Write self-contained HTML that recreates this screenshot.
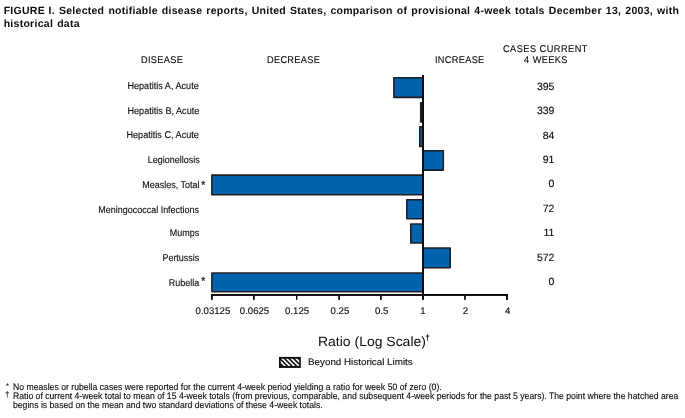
<!DOCTYPE html>
<html>
<head>
<meta charset="utf-8">
<title>FIGURE I</title>
<style>
html,body{margin:0;padding:0;background:#fff;}
body{width:685px;height:418px;position:relative;overflow:hidden;font-family:"Liberation Sans",sans-serif;color:#0d0b0c;}
.w{position:absolute;left:0;top:0;width:685px;height:418px;will-change:transform;}
.t{position:absolute;white-space:nowrap;text-rendering:geometricPrecision;-webkit-text-stroke:0.12px #0d0b0c;}
svg{position:absolute;left:0;top:0;}
</style>
</head>
<body>
<div class="w">
<div class="t" style="font-size:10.5px;line-height:12px;height:12px;font-weight:bold;letter-spacing:0.27px;word-spacing:0.9px;left:3.7px;top:5px;-webkit-text-stroke:0;">FIGURE<span style="word-spacing:0.3px"> </span>I. Selected notifiable disease reports, United States, comparison of provisional 4-week totals December 13, 2003, with</div>
<div class="t" style="font-size:10.5px;line-height:12px;height:12px;font-weight:bold;letter-spacing:0.27px;word-spacing:0.9px;left:3.7px;top:18px;-webkit-text-stroke:0;">historical data</div>
<div class="t" style="font-size:9.8px;line-height:12px;height:12px;letter-spacing:0.33px;left:140.6px;transform:scaleX(0.94);transform-origin:0 50%;top:55px;">DISEASE</div>
<div class="t" style="font-size:9.8px;line-height:12px;height:12px;letter-spacing:0.33px;left:266.8px;transform:scaleX(0.94);transform-origin:0 50%;top:55px;">DECREASE</div>
<div class="t" style="font-size:9.8px;line-height:12px;height:12px;letter-spacing:0.33px;left:435.3px;transform:scaleX(0.94);transform-origin:0 50%;top:55px;">INCREASE</div>
<div class="t" style="font-size:9.8px;line-height:12px;height:12px;letter-spacing:0.5px;left:503.4px;transform:scaleX(0.94);transform-origin:0 50%;top:44px;">CASES CURRENT</div>
<div class="t" style="font-size:9.8px;line-height:12px;height:12px;letter-spacing:0.4px;word-spacing:0.3px;left:523.5px;transform:scaleX(0.94);transform-origin:0 50%;top:55px;">4 WEEKS</div>
<div class="t" style="font-size:9.8px;line-height:12px;height:12px;right:485.8px;text-align:right;transform:scaleX(0.93);transform-origin:100% 50%;top:81px;">Hepatitis A, Acute</div>
<div class="t" style="font-size:9.8px;line-height:12px;height:12px;right:485.8px;text-align:right;transform:scaleX(0.93);transform-origin:100% 50%;top:106px;">Hepatitis B, Acute</div>
<div class="t" style="font-size:9.8px;line-height:12px;height:12px;right:485.8px;text-align:right;transform:scaleX(0.93);transform-origin:100% 50%;top:130px;">Hepatitis C, Acute</div>
<div class="t" style="font-size:9.8px;line-height:12px;height:12px;right:485.8px;text-align:right;transform:scaleX(0.915);transform-origin:100% 50%;top:155px;">Legionellosis</div>
<div class="t" style="font-size:9.8px;line-height:12px;height:12px;right:485.8px;text-align:right;transform:scaleX(0.915);transform-origin:100% 50%;top:180px;">Measles, Total</div>
<div class="t" style="font-size:9.8px;line-height:12px;height:12px;right:485.8px;text-align:right;transform:scaleX(0.915);transform-origin:100% 50%;top:205px;">Meningococcal Infections</div>
<div class="t" style="font-size:9.8px;line-height:12px;height:12px;right:485.8px;text-align:right;transform:scaleX(0.915);transform-origin:100% 50%;top:228px;">Mumps</div>
<div class="t" style="font-size:9.8px;line-height:12px;height:12px;right:485.8px;text-align:right;transform:scaleX(0.915);transform-origin:100% 50%;top:253px;">Pertussis</div>
<div class="t" style="font-size:9.8px;line-height:12px;height:12px;right:485.8px;text-align:right;transform:scaleX(0.915);transform-origin:100% 50%;top:278px;">Rubella</div>
<div class="t" style="font-size:12px;line-height:12px;height:12px;left:201px;transform:scaleX(0.95);transform-origin:0 50%;top:179.2px;">*</div>
<div class="t" style="font-size:12px;line-height:12px;height:12px;left:201px;transform:scaleX(0.95);transform-origin:0 50%;top:275.2px;">*</div>
<div class="t" style="font-size:10.5px;line-height:12px;height:12px;right:130.6px;text-align:right;top:81px;">395</div>
<div class="t" style="font-size:10.5px;line-height:12px;height:12px;right:130.6px;text-align:right;top:105px;">339</div>
<div class="t" style="font-size:10.5px;line-height:12px;height:12px;right:130.6px;text-align:right;top:130px;">84</div>
<div class="t" style="font-size:10.5px;line-height:12px;height:12px;right:130.6px;text-align:right;top:154px;">91</div>
<div class="t" style="font-size:10.5px;line-height:12px;height:12px;right:130.6px;text-align:right;top:178px;">0</div>
<div class="t" style="font-size:10.5px;line-height:12px;height:12px;right:130.6px;text-align:right;top:203px;">72</div>
<div class="t" style="font-size:10.5px;line-height:12px;height:12px;right:130.6px;text-align:right;top:227px;">11</div>
<div class="t" style="font-size:10.5px;line-height:12px;height:12px;right:130.6px;text-align:right;top:252px;">572</div>
<div class="t" style="font-size:10.5px;line-height:12px;height:12px;right:130.6px;text-align:right;top:276px;">0</div>
<div class="t" style="font-size:9.6px;line-height:12px;height:12px;left:182.9px;width:60px;text-align:center;top:306px;">0.03125</div>
<div class="t" style="font-size:9.6px;line-height:12px;height:12px;left:224.5px;width:60px;text-align:center;top:306px;">0.0625</div>
<div class="t" style="font-size:9.6px;line-height:12px;height:12px;left:267.1px;width:60px;text-align:center;top:306px;">0.125</div>
<div class="t" style="font-size:9.6px;line-height:12px;height:12px;left:309.9px;width:60px;text-align:center;top:306px;">0.25</div>
<div class="t" style="font-size:9.6px;line-height:12px;height:12px;left:351.6px;width:60px;text-align:center;top:306px;">0.5</div>
<div class="t" style="font-size:9.6px;line-height:12px;height:12px;left:393px;width:60px;text-align:center;top:306px;">1</div>
<div class="t" style="font-size:9.6px;line-height:12px;height:12px;left:435.4px;width:60px;text-align:center;top:306px;">2</div>
<div class="t" style="font-size:9.6px;line-height:12px;height:12px;left:477.6px;width:60px;text-align:center;top:306px;">4</div>
<div class="t" style="font-size:13.4px;line-height:18px;height:18px;left:318px;transform:scaleX(1.043);transform-origin:0 50%;top:333px;-webkit-text-stroke:0;">Ratio (Log Scale)</div>
<div class="t" style="font-size:7.5px;line-height:12px;height:12px;left:425.6px;top:332px;-webkit-text-stroke:0.3px #0d0b0c;">&#8224;</div>
<div class="t" style="font-size:9.3px;line-height:12px;height:12px;left:308.2px;transform:scaleX(1.056);transform-origin:0 50%;top:356px;">Beyond Historical Limits</div>
<div class="t" style="font-size:8.6px;line-height:12px;height:12px;left:5.8px;top:380.4px;-webkit-text-stroke:0;">*</div>
<div class="t" style="font-size:9.3px;line-height:12px;height:12px;word-spacing:0.065px;left:12.7px;transform:scaleX(0.9305);transform-origin:0 50%;top:381px;">No measles or rubella cases were reported for the current 4-week period yielding a ratio for week 50 of zero (0).</div>
<div class="t" style="font-size:8px;line-height:12px;height:12px;left:5.1px;top:388.6px;">&#8224;</div>
<div class="t" style="font-size:9.3px;line-height:12px;height:12px;left:12.7px;transform:scaleX(0.9305);transform-origin:0 50%;top:390px;">Ratio of current 4-week total to mean of 15 4-week totals (from previous, comparable, and subsequent 4-week periods for the past 5 years). The point where the hatched area</div>
<div class="t" style="font-size:9.3px;line-height:12px;height:12px;left:12.7px;transform:scaleX(0.9305);transform-origin:0 50%;top:399px;">begins is based on the mean and two standard deviations of these 4-week totals.</div>
<svg width="685" height="418" viewBox="0 0 685 418">
  <g fill="#0063ae" stroke="#231f20" stroke-width="1.6" stroke-linejoin="round">
    <rect x="393.9" y="77.8" width="29" height="19.6"/>
    <rect x="420.7" y="102.8" width="2" height="19.2" fill="#231f20"/>
    <rect x="419.8" y="126.8" width="3" height="19.6"/>
    <rect x="423" y="150.7" width="20.3" height="19.4"/>
    <rect x="211.9" y="175.1" width="211" height="19.6"/>
    <rect x="406.8" y="199.8" width="16" height="19"/>
    <rect x="410.8" y="224" width="12" height="19"/>
    <rect x="423" y="248" width="27.2" height="19.8"/>
    <rect x="211.9" y="273" width="211" height="18.7"/>
  </g>
  <g fill="#100c0d">
    <rect x="422" y="75" width="2" height="221"/>
    <rect x="211" y="294" width="297" height="1.95"/>
    <rect x="211" y="295" width="1.8" height="4.85"/>
    <rect x="253" y="295" width="1.8" height="4.85"/>
    <rect x="296" y="295" width="1.4" height="4.85"/>
    <rect x="338.2" y="295" width="1.8" height="4.85"/>
    <rect x="380" y="295" width="1.8" height="4.85"/>
    <rect x="422" y="295" width="2" height="4.85"/>
    <rect x="464.1" y="295" width="1.8" height="4.85"/>
    <rect x="506" y="295" width="2" height="4.85"/>
  </g>
  <defs>
    <clipPath id="lc"><rect x="280.7" y="358.7" width="18.6" height="7.4"/></clipPath>
  </defs>
  <rect x="279" y="356.9" width="21.8" height="11" fill="#0d0b0c"/>
  <g clip-path="url(#lc)" stroke="#fff" stroke-width="1.7">
    <line x1="275.7" y1="356.7" x2="287.7" y2="368.7"/>
    <line x1="280.3" y1="356.7" x2="292.3" y2="368.7"/>
    <line x1="284.9" y1="356.7" x2="296.9" y2="368.7"/>
    <line x1="289.5" y1="356.7" x2="301.5" y2="368.7"/>
    <line x1="294.1" y1="356.7" x2="306.1" y2="368.7"/>
    <line x1="298.7" y1="356.7" x2="310.7" y2="368.7"/>
  </g>
</svg>
</div>
</body>
</html>
